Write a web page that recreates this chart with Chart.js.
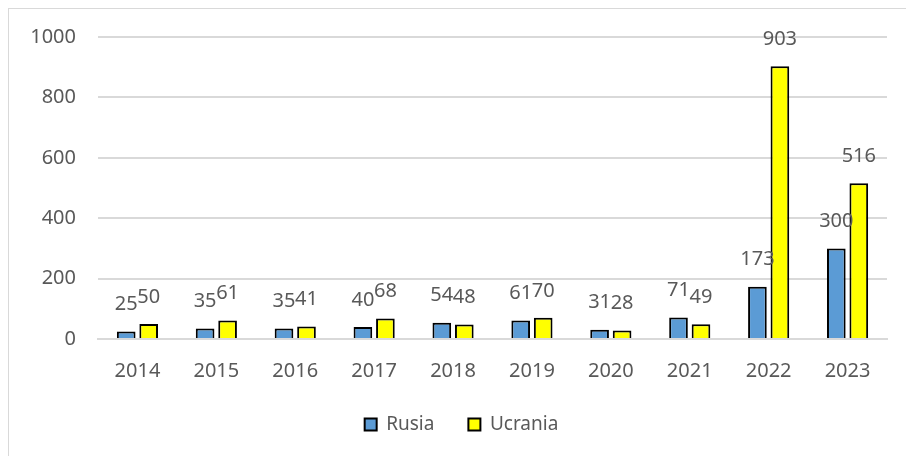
<!DOCTYPE html>
<html>
<head>
<meta charset="utf-8">
<script src="https://cdn.jsdelivr.net/npm/chart.js@4"></script>
<style>
  html, body { margin: 0; padding: 0; background: #fff; overflow: hidden; }
  #frame {
    position: absolute; left: 8px; top: 8px; width: 940px; height: 480px;
    border: 1px solid #d9d9d9;
  }
  #wrap { position: absolute; left: 0; top: 0; width: 906px; height: 456px; }
</style>
</head>
<body>
<div id="frame"></div>
<div id="wrap"><canvas id="chart" width="906" height="456"></canvas></div>
<script>
// ============================
// Data
// ============================
const years = ["2014", "2015", "2016", "2017", "2018", "2019", "2020", "2021", "2022", "2023"];
const rusia = [25, 35, 35, 40, 54, 61, 31, 71, 173, 300];
const ucrania = [50, 61, 41, 68, 48, 70, 28, 49, 903, 516];
const yTicks = [0, 200, 400, 600, 800, 1000];

const GRAY_TEXT = "#595959";
const GRID = "#d9d9d9";

Chart.defaults.font.family = "'Noto Sans', sans-serif";
Chart.defaults.color = GRAY_TEXT;

// value labels above each bar
const barLabels = {
  id: "barLabels",
  afterDatasetsDraw(chart) {
    const ctx = chart.ctx;
    ctx.save();
    ctx.font = "20px 'Noto Sans', sans-serif";
    ctx.fillStyle = GRAY_TEXT;
    ctx.textAlign = "center";
    ctx.textBaseline = "bottom";
    chart.data.datasets.forEach((ds, i) => {
      const meta = chart.getDatasetMeta(i);
      meta.data.forEach((bar, j) => {
        ctx.fillText(ds.data[j], bar.x, bar.y - 17);
      });
    });
    ctx.restore();
  },
};

// legend sits a bit right of the canvas centre in the original
const legendShift = {
  id: "legendShift",
  afterLayout(chart) {
    if (chart.legend) chart.legend.left += 36;
  },
};

new Chart(document.getElementById("chart"), {
  type: "bar",
  data: {
    labels: years,
    datasets: [
      {
        label: "Rusia",
        data: rusia,
        backgroundColor: "#5b9bd5",
        borderColor: "#000",
        borderWidth: 2,
        categoryPercentage: 0.57,
        barPercentage: 0.83,
      },
      {
        label: "Ucrania",
        data: ucrania,
        backgroundColor: "#ffff00",
        borderColor: "#000",
        borderWidth: 2,
        categoryPercentage: 0.57,
        barPercentage: 0.83,
      },
    ],
  },
  options: {
    responsive: false,
    animation: false,
    layout: { padding: { left: 0, right: 19, top: 37, bottom: 12 } },
    plugins: {
      title: { display: false },
      tooltip: { enabled: false },
      legend: {
        position: "bottom",
        labels: {
          font: { size: 19 },
          color: GRAY_TEXT,
          boxWidth: 12,
          boxHeight: 12,
          padding: 34,
        },
      },
    },
    scales: {
      x: {
        grid: { display: false },
        border: { color: GRID, width: 2 },
        ticks: { font: { size: 20 }, color: GRAY_TEXT, padding: 12 },
        afterFit: (scale) => {
          scale.height -= 14;
        },
      },
      y: {
        min: 0,
        max: 1000,
        afterBuildTicks: (scale) => {
          scale.ticks = yTicks.map((v) => ({ value: v }));
        },
        afterFit: (scale) => {
          scale.width = 98;
        },
        grid: { color: GRID, lineWidth: 2, drawTicks: false },
        border: { display: false },
        ticks: {
          font: { size: 20 },
          color: GRAY_TEXT,
          padding: 22,
          callback: (v) => String(v),
        },
      },
    },
  },
  plugins: [barLabels, legendShift],
});
</script>
</body>
</html>
